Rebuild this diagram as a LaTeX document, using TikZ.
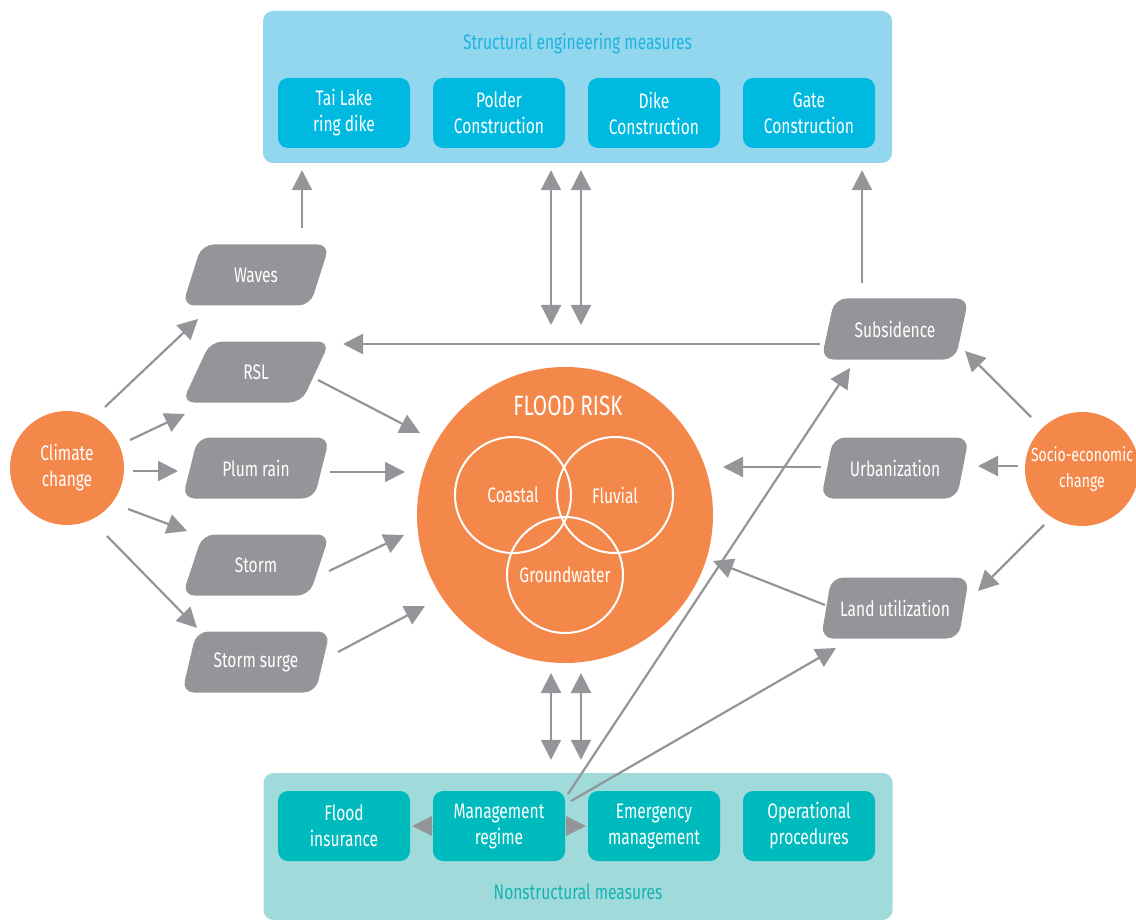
\documentclass[tikz,border=0pt]{standalone}
\usepackage{fontspec}
\setmainfont{Fira Sans}[FakeStretch=0.74]
\usepackage{tikz}
\usetikzlibrary{calc,arrows.meta,positioning,shapes.geometric}

\definecolor{skyfill}{HTML}{93D7EF}
\definecolor{skybox}{HTML}{00B9E1}
\definecolor{skytext}{HTML}{1DB4DF}
\definecolor{tealfill}{HTML}{A0DADB}
\definecolor{tealbox}{HTML}{00BBBE}
\definecolor{tealtext}{HTML}{14B4B2}
\definecolor{riskorange}{HTML}{F4874A}
\definecolor{linkgray}{HTML}{939598}

\begin{document}
\begin{tikzpicture}[x=1pt,y=-1pt]

  % Parameters
  \def\wpanel{629}
  \def\wcell{132}
  \def\hcell{70}
  \def\tip{Triangle[length=20pt,width=20pt]}

  % Styles
  \tikzstyle{panel}=[rounded corners=10pt,minimum width=\wpanel,inner sep=0pt]
  \tikzstyle{measure}=[rounded corners=10pt,text=white,align=center,minimum width=\wcell,minimum height=\hcell,inner sep=0pt,font=\fontsize{21}{26}\selectfont]
  \tikzstyle{factor}=[trapezium,trapezium left angle=62,trapezium right angle=118,trapezium stretches=true,rounded corners=12pt,fill=linkgray,text=white,minimum width=148,minimum height=61,inner sep=0pt,font=\fontsize{21}{24}\selectfont]
  \tikzstyle{driver}=[circle,fill=riskorange,text=white,minimum size=114,inner sep=0pt,align=center,font=\fontsize{21}{26}\selectfont]
  \tikzstyle{kind}=[circle,draw=white,line width=2pt,minimum size=116,inner sep=0pt,text=white,font=\fontsize{21}{24}\selectfont]
  \tikzstyle{link}=[linkgray,line width=2.2pt,-{\tip}]
  \tikzstyle{both}=[linkgray,line width=2.2pt,{\tip}-{\tip}]

  \useasboundingbox (0,0) rectangle (1136,920);

  % ===========================================================================

  % Structural measures (top)
  \node[panel,fill=skyfill,minimum height=152] (sem) at (577.5,87) {};
  \node[text=skytext,font=\fontsize{21}{24}\selectfont] (semtitle) at ($(sem.north)+(0,33)$) {Structural engineering measures};
  \foreach \name/\x/\txt in {taidike/344/{Tai Lake\\ring dike},polder/499/{Polder\\Construction},
                             dike/654/{Dike\\Construction},gate/809/{Gate\\Construction}}
    \node[measure,fill=skybox] (\name) at (\x,113) {\txt};

  % Nonstructural measures (bottom)
  \node[panel,fill=tealfill,minimum height=147] (nsm) at (578,846.5) {};
  \node[text=tealtext,font=\fontsize{21}{24}\selectfont] (nsmtitle) at ($(nsm.south)+(0,-28)$) {Nonstructural measures};
  \foreach \name/\x/\txt in {insurance/344/{Flood\\insurance},regime/499/{Management\\regime},
                             emergency/654/{Emergency\\management},operational/809/{Operational\\procedures}}
    \node[measure,fill=tealbox] (\name) at (\x,826) {\txt};

  % Drivers
  \node[driver] (climate) at (67,468) {Climate\\change};
  \node[driver,font=\fontsize{19}{26}\selectfont] (socio) at (1082,469) {Socio-economic\\change};

  % Flood risk
  \node[circle,fill=riskorange,minimum size=296,inner sep=0pt] (flood) at (565,515) {};
  \node[text=white,font=\fontsize{28}{32}\selectfont] (floodtitle) at (568,406) {FLOOD RISK};
  \node[kind] (coastal) at (513,495) {Coastal};
  \node[kind] (fluvial) at (615,495) {Fluvial};
  \node[kind] (groundwater) at (565,575) {Groundwater};

  % Factors
  \foreach \name/\y/\txt in {waves/275/Waves,rsl/372/RSL,plum/468/Plum rain,storm/565/Storm,surge/662/Storm surge}
    \node[factor] (\name) at (256,\y) {\txt};
  \foreach \name/\y/\txt in {subsidence/329/Subsidence,urban/468/Urbanization,landuse/608/Land utilization}
    \node[factor] (\name) at (895,\y) {\txt};

  % Climate change links
  \draw[link] ($(climate)+(38,-61)$) -- ($(waves)+(-58,44)$);
  \draw[link] ($(climate)+(63,-28)$) -- ($(rsl)+(-71,42)$);
  \draw[link] ($(climate)+(66,3)$) -- ($(plum)+(-78,3)$);
  \draw[link] ($(climate)+(61,41)$) -- ($(storm)+(-69,-34)$);
  \draw[link] ($(climate)+(40,68)$) -- ($(surge)+(-59,-34)$);

  % Into flood risk
  \draw[link] ($(rsl)+(62,8)$) -- ($(flood)+(-145,-82)$);
  \draw[link] ($(plum)+(74,4)$) -- ($(flood)+(-160,-43)$);
  \draw[link] ($(storm)+(73,6)$) -- ($(flood)+(-161,20)$);
  \draw[link] ($(surge)+(82,-10)$) -- ($(flood)+(-140,91)$);
  \draw[link] ($(urban)+(-74,-1)$) -- ($(flood)+(158,-48)$);
  \draw[link] ($(landuse)+(-70,-3)$) -- ($(flood)+(148,46)$);

  % Socio-economic links
  \draw[link] ($(socio)+(-51,-52)$) -- ($(subsidence)+(70,22)$);
  \draw[link] ($(socio)+(-64,-3)$) -- ($(urban)+(83,-2)$);
  \draw[link] ($(socio)+(-38,56)$) -- ($(landuse)+(83,-17)$);
  \draw[link] ($(subsidence)+(-75,15)$) -- ($(rsl)+(87,-28)$);

  % Up to structural measures
  \draw[link] ($(waves)+(46,-47)$) -- ($(sem.south)+(-275.5,7)$);
  \draw[link] ($(subsidence)+(-33,-46)$) -- ($(sem.south)+(284.5,7)$);
  \draw[both] ($(flood)+(-14,-190)$) -- ($(sem.south)+(-26.5,7)$);
  \draw[both] ($(flood)+(16,-190)$) -- ($(sem.south)+(3.5,7)$);

  % Down to nonstructural measures
  \draw[both] ($(flood)+(-14,158)$) -- ($(nsm.north)+(-27,-13)$);
  \draw[both] ($(flood)+(16,158)$) -- ($(nsm.north)+(3,-13)$);

  % Management regime
  \draw[link] ($(regime)+(69,-32)$) -- ($(subsidence)+(-45,39)$);
  \draw[link] ($(regime)+(72,-25)$) -- ($(landuse)+(-59,40)$);
  \draw[link,line width=0pt] (regime.west) -- ($(insurance.east)+(2,0)$);
  \draw[link,line width=0pt] (regime.east) -- ($(emergency.west)+(-2,0)$);

\end{tikzpicture}
\end{document}
